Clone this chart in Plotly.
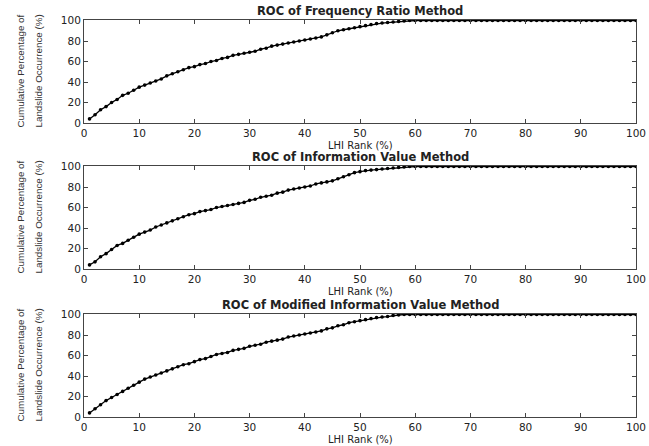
import plotly.graph_objects as go

lhi_rank = list(range(1, 101))

fr_head = [4, 8, 13, 16, 20, 23, 27, 29, 32, 35, 37, 39, 41, 43, 46, 48, 50, 52, 54, 55,
           57, 58, 60, 61, 63, 64, 66, 67, 68, 69, 70, 72, 73, 75, 76, 77, 78, 79, 80, 81,
           82, 83, 84, 86, 88, 90, 91, 92, 93, 94, 95, 96, 97, 97.5, 98, 98.5, 99, 99.5]
iv_head = [4, 7, 12, 15, 19, 23, 25, 28, 31, 34, 36, 38, 41, 43, 45, 47, 49, 51, 53, 54,
           56, 57, 58, 60, 61, 62, 63, 64, 65, 67, 68, 70, 71, 72, 74, 75, 77, 78, 79, 80,
           81, 83, 84, 85, 86, 88, 90, 92, 94, 95, 96, 96.5, 97, 97.5, 98, 98.5, 99, 99.5]
miv_head = [4, 8, 12, 16, 19, 22, 25, 28, 31, 34, 37, 39, 41, 43, 45, 47, 49, 51, 52, 54,
            56, 57, 59, 61, 62, 63, 65, 66, 67, 69, 70, 71, 73, 74, 75, 76, 78, 79, 80, 81,
            82, 83, 84, 86, 87, 89, 90, 92, 93, 94, 95, 96, 97, 97.5, 98, 99, 99.5]

fr_values = fr_head + [100] * (100 - len(fr_head))
iv_values = iv_head + [100] * (100 - len(iv_head))
miv_values = miv_head + [100] * (100 - len(miv_head))

titles = ["ROC of Frequency Ratio Method",
          "ROC of Information Value Method",
          "ROC of Modified Information Value Method"]
series = [fr_values, iv_values, miv_values]
x_ticks = list(range(0, 101, 10))
y_ticks = list(range(0, 101, 20))
x_label = "LHI Rank (%)"
y_label_lines = ["Cumulative Percentage of", "Landslide Occurrence (%)"]

W, H = 649, 446
ml, mr, mt, mb = 84, 13, 20, 29
ph = H - mt - mb
panels_px = [(20, 123), (166, 269), (314, 417)]
main_font = "DejaVu Sans, Verdana, sans-serif"
narrow_font = "Liberation Sans Narrow, Arial Narrow, Liberation Sans, sans-serif"

fig = go.Figure()
layout = dict(
    width=W, height=H,
    margin=dict(l=ml, r=mr, t=mt, b=mb),
    paper_bgcolor="white", plot_bgcolor="white",
    showlegend=False,
    font=dict(family=main_font, color="#222", size=11),
)
annotations = []
for i, (vals, title, (top, bot)) in enumerate(zip(series, titles, panels_px)):
    n = "" if i == 0 else str(i + 1)
    fig.add_trace(go.Scatter(
        x=lhi_rank, y=vals, mode="lines+markers",
        line=dict(color="black", width=1.3),
        marker=dict(color="black", size=3.6),
        xaxis="x" + n, yaxis="y" + n, hoverinfo="skip",
    ))
    dom = [(H - mb - bot) / ph, (H - mb - top) / ph]
    axcommon = dict(showline=True, mirror="ticks", linecolor="#444", linewidth=1,
                    ticks="inside", ticklen=4, tickcolor="#444", showgrid=False,
                    zeroline=False, tickfont=dict(size=10.5, color="#222", family=main_font),
                    ticklabeloverflow="allow", automargin=False)
    layout["xaxis" + n] = dict(axcommon, domain=[0, 1], range=[0, 100],
                               tickvals=x_ticks, anchor="y" + n, ticklabelstandoff=0)
    layout["yaxis" + n] = dict(axcommon, domain=dom, range=[0, 100.5],
                               tickvals=y_ticks, anchor="x" + n)
    annotations.append(dict(
        text="<b>" + title + "</b>", xref="x" + n + " domain", yref="y" + n + " domain",
        x=0.5, y=1, xanchor="center", yanchor="middle", yshift=9.5, showarrow=False,
        font=dict(size=11.5, color="#222", family=main_font),
    ))
    annotations.append(dict(
        text=x_label, xref="x" + n + " domain", yref="y" + n + " domain",
        x=0.5, y=0, xanchor="center", yanchor="middle", yshift=-22.5, showarrow=False,
        font=dict(size=10, color="#222", family=main_font),
    ))
    for xpx, line in zip([20, 38], y_label_lines):
        annotations.append(dict(
            text=line, xref="paper", yref="y" + n + " domain",
            x=(xpx - ml) / (W - ml - mr), y=0.5, xanchor="center", yanchor="middle",
            textangle=-90, showarrow=False,
            font=dict(size=9.8, family=narrow_font, color="#333"),
        ))
layout["annotations"] = annotations
fig.update_layout(**layout)
fig.write_html("out.html", config={"displayModeBar": False},
               post_script="document.body.style.margin='0';document.body.style.overflow='hidden';")
